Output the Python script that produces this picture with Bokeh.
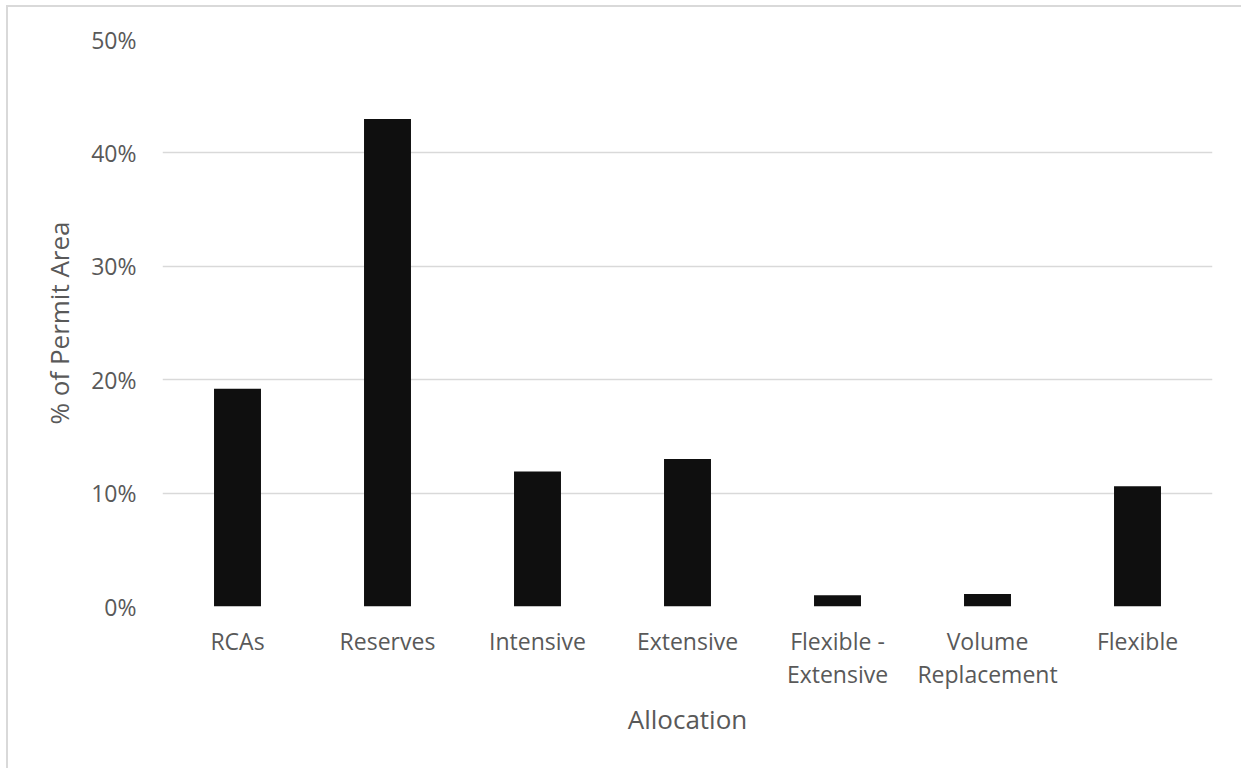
from bokeh.plotting import figure
from bokeh.models import FactorRange, Range1d, NumeralTickFormatter, FixedTicker
from bokeh.embed import file_html
from bokeh.resources import INLINE

# Share of permit area by allocation type (labels wrap onto two lines where long)
categories = ["RCAs", "Reserves", "Intensive", "Extensive",
              "Flexible -\nExtensive", "Volume\nReplacement", "Flexible"]
share_pct = [19.2, 43.0, 11.9, 13.0, 1.0, 1.1, 10.6]
y_ticks_pct = [0, 10, 20, 30, 40, 50]

share = [v / 100 for v in share_pct]
y_ticks = [v / 100 for v in y_ticks_pct]

FONT = "Open Sans"
TEXT = "#595959"
GRID = "#d9d9d9"

p = figure(
    x_range=FactorRange(*categories, range_padding=0),
    y_range=Range1d(0, 0.5),
    width=1235, height=763,
    output_backend="svg", toolbar_location=None,
    min_border_left=154, min_border_right=31,
    min_border_top=32, min_border_bottom=164,
)
p.styles = {
    "margin-left": "6px", "margin-top": "5px",
    "border-left": f"2px solid {GRID}", "border-top": f"2px solid {GRID}",
}
p.outline_line_color = None
p.background_fill_color = "white"
p.border_fill_color = "white"

p.vbar(x=categories, top=share, width=0.313, fill_color="#0f0f0f", line_color=None)

# horizontal gridlines only
p.xgrid.grid_line_color = None
p.ygrid.grid_line_color = GRID
p.ygrid.grid_line_width = 1.3
p.ygrid.ticker = FixedTicker(ticks=y_ticks)

# y axis
p.yaxis.ticker = FixedTicker(ticks=y_ticks)
p.yaxis.formatter = NumeralTickFormatter(format="0%")
p.yaxis.axis_line_color = None
p.yaxis.major_tick_line_color = None
p.yaxis.minor_tick_line_color = None
p.yaxis.major_label_standoff = 20
p.yaxis.axis_label = "% of Permit Area"
p.yaxis.axis_label_standoff = 11

# x axis
p.xaxis.axis_line_color = None
p.xaxis.major_tick_line_color = None
p.xaxis.major_label_standoff = 12
p.xaxis.axis_label = "Allocation"
p.xaxis.axis_label_standoff = 8

for ax in (p.xaxis, p.yaxis):
    ax.major_label_text_font = FONT
    ax.major_label_text_font_size = "23px"
    ax.major_label_text_color = TEXT
    ax.major_label_text_line_height = 1.05
    ax.axis_label_text_font = FONT
    ax.axis_label_text_font_size = "26px"
    ax.axis_label_text_font_style = "normal"
    ax.axis_label_text_color = TEXT

open("out.html", "w").write(file_html(p, INLINE))
